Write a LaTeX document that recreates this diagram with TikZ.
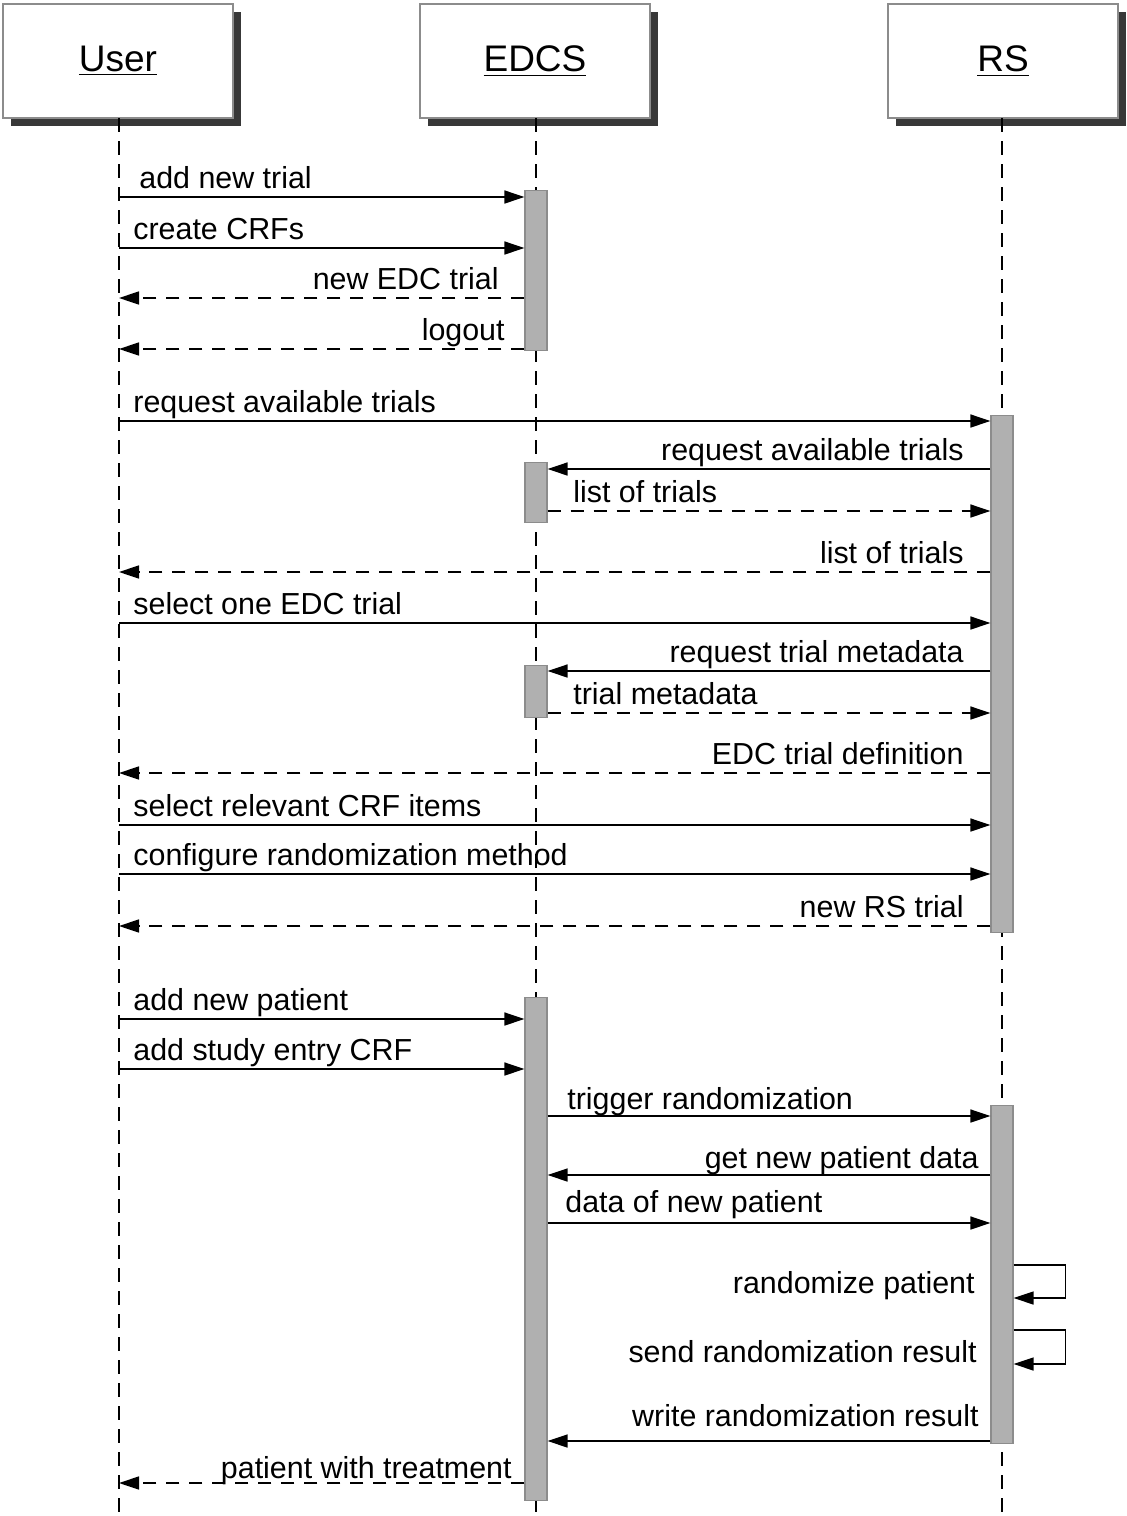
\documentclass[tikz,border=0pt]{standalone}
\usepackage{fontspec}
\setmainfont{Liberation Sans}
\usetikzlibrary{arrows.meta,shadows}

\tikzset{
  obj/.style={draw=black!45, line width=0.8pt, fill=white,
    minimum width=115pt, minimum height=57pt, inner sep=0pt,
    font=\fontsize{18.5}{22}\selectfont,
    drop shadow={shadow xshift=4pt, shadow yshift=-4pt, fill=black!78, opacity=1}},
  life/.style={line width=0.6pt, dash pattern=on 7pt off 4.5pt},
  act/.style={draw=black!45, fill=black!31, line width=0.6pt,
    minimum width=11pt, inner sep=0pt, anchor=north},
  msg/.style={line width=0.8pt, -{Triangle[length=10pt,width=6.5pt]}},
  ret/.style={msg, dash pattern=on 6.5pt off 5pt},
  lbl/.style={font=\fontsize{15.2}{18}\selectfont, inner sep=0pt},
  lblL/.style={lbl, anchor=base west},
  lblR/.style={lbl, anchor=base east},
}

\begin{document}
\begin{tikzpicture}[x=0.5pt, y=-0.5pt]
\useasboundingbox (0,0) rectangle (1126,1516);

% objects
\node[obj] (user) at (118,61) {\underline{User}};
\node[obj] (edcs) at (535,61) {\underline{EDCS}};
\node[obj] (rs)   at (1003,61) {\underline{RS}};

% lifelines
\coordinate (uT) at (119,118);  \coordinate (uB) at (119,1516);
\coordinate (eT) at (536,118);  \coordinate (eB) at (536,1516);
\coordinate (rT) at (1002,118); \coordinate (rB) at (1002,1516);
\draw[life] (uT) -- (uB);
\draw[life] (eT) -- (eB);
\draw[life] (rT) -- (rB);

% activations
\node[act, minimum height=80pt]    (e1) at (536,190) {};
\node[act, minimum height=258.5pt] (r1) at (1002,415) {};
\node[act, minimum height=30pt]    (e2) at (536,462) {};
\node[act, minimum height=26pt]    (e3) at (536,665) {};
\node[act, minimum height=251.5pt] (e4) at (536,997) {};
\node[act, minimum height=169pt]   (r2) at (1002,1105) {};

% trial set-up in the EDCS
\draw[msg] (uT |- 0,197) -- (e1.west |- 0,197);
\node[lblL] at (139,188) {add new trial};
\draw[msg] (uT |- 0,248) -- (e1.west |- 0,248);
\node[lblL] at (133,239) {create CRFs};
\draw[ret] (e1.west |- 0,298) -- (uT |- 0,298);
\node[lblR] at (499,289) {new EDC trial};
\draw[ret] (e1.west |- 0,349) -- (uT |- 0,349);
\node[lblR] at (505,340) {logout};

% trial set-up in the RS
\draw[msg] (uT |- 0,421) -- (r1.west |- 0,421);
\node[lblL] at (133,412) {request available trials};
\draw[msg] (r1.west |- 0,469) -- (e2.east |- 0,469);
\node[lblR] at (964,460) {request available trials};
\draw[ret] (e2.east |- 0,511) -- (r1.west |- 0,511);
\node[lblL] at (573,502) {list of trials};
\draw[ret] (r1.west |- 0,572) -- (uT |- 0,572);
\node[lblR] at (964,563) {list of trials};
\draw[msg] (uT |- 0,623) -- (r1.west |- 0,623);
\node[lblL] at (133,614) {select one EDC trial};
\draw[msg] (r1.west |- 0,671) -- (e3.east |- 0,671);
\node[lblR] at (964,662) {request trial metadata};
\draw[ret] (e3.east |- 0,713) -- (r1.west |- 0,713);
\node[lblL] at (573,704) {trial metadata};
\draw[ret] (r1.west |- 0,773) -- (uT |- 0,773);
\node[lblR] at (964,764) {EDC trial definition};
\draw[msg] (uT |- 0,825) -- (r1.west |- 0,825);
\node[lblL] at (133,816) {select relevant CRF items};
\draw[msg] (uT |- 0,874) -- (r1.west |- 0,874);
\node[lblL] at (133,865) {configure randomization method};
\draw[ret] (r1.west |- 0,926) -- (uT |- 0,926);
\node[lblR] at (964,917) {new RS trial};

% patient randomization
\draw[msg] (uT |- 0,1019) -- (e4.west |- 0,1019);
\node[lblL] at (133,1010) {add new patient};
\draw[msg] (uT |- 0,1069) -- (e4.west |- 0,1069);
\node[lblL] at (133,1060) {add study entry CRF};
\draw[msg] (e4.east |- 0,1116) -- (r2.west |- 0,1116);
\node[lblL] at (567,1109) {trigger randomization};
\draw[msg] (r2.west |- 0,1175) -- (e4.east |- 0,1175);
\node[lblR] at (979,1168) {get new patient data};
\draw[msg] (e4.east |- 0,1223) -- (r2.west |- 0,1223);
\node[lblL] at (565,1212) {data of new patient};
\draw[msg] (r2.east |- 0,1265) -- ++(52,0) -- ++(0,33) -- (r2.east |- 0,1298);
\node[lblR] at (975,1293) {randomize patient};
\draw[msg] (r2.east |- 0,1330) -- ++(52,0) -- ++(0,34) -- (r2.east |- 0,1364);
\node[lblR] at (977,1362) {send randomization result};
\draw[msg] (r2.west |- 0,1441) -- (e4.east |- 0,1441);
\node[lblR] at (979,1426) {write randomization result};
\draw[ret] (e4.west |- 0,1483) -- (uT |- 0,1483);
\node[lblR] at (512,1478) {patient with treatment};
\end{tikzpicture}
\end{document}
